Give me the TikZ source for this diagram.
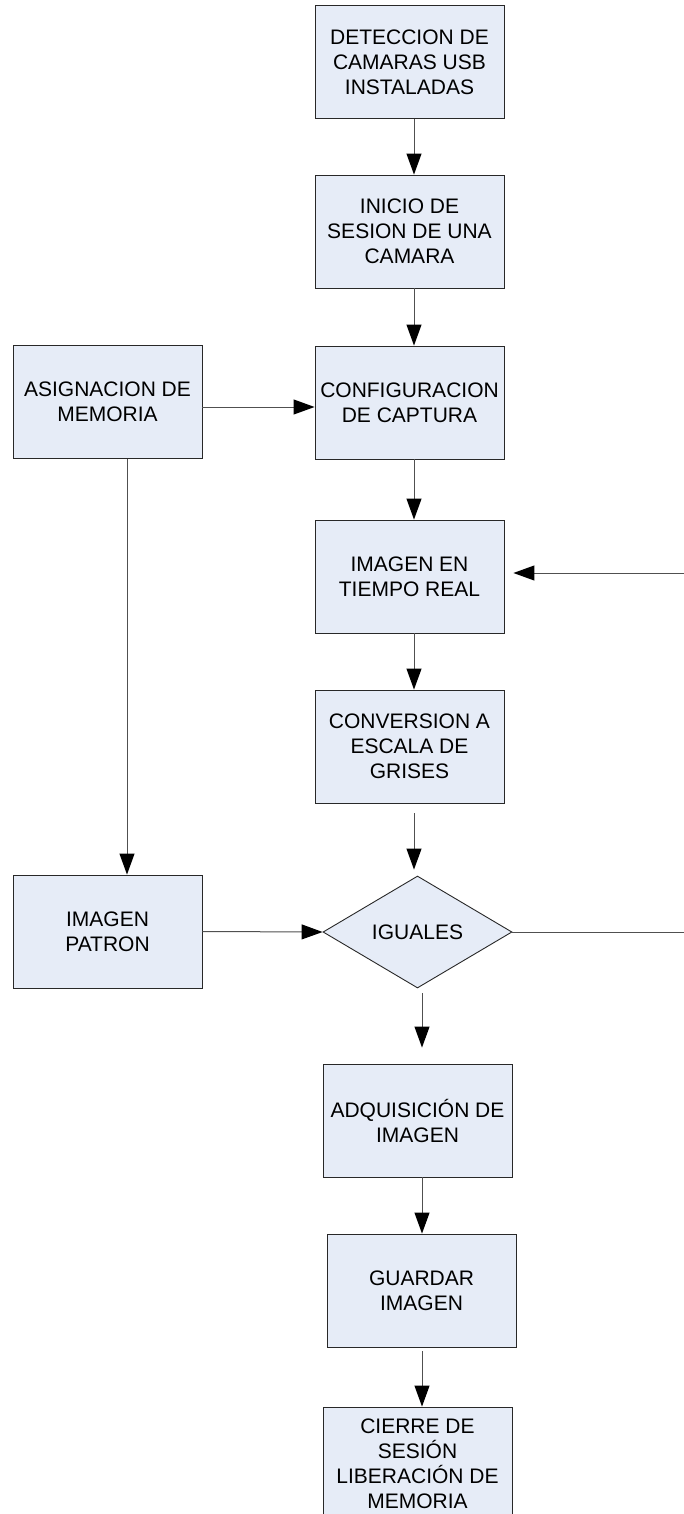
\documentclass[tikz,border=0pt]{standalone}
\usepackage{fontspec}
\setmainfont{Liberation Sans}
\usetikzlibrary{shapes.geometric,arrows.meta}

\definecolor{boxfill}{RGB}{230,236,247}
\definecolor{boxline}{RGB}{40,40,40}
\definecolor{wire}{RGB}{80,80,80}

\tikzset{
  stepbox/.style={draw=boxline, fill=boxfill, line width=0.9pt,
    minimum width=189pt, minimum height=113pt, inner sep=0pt,
    align=center, font=\fontsize{21pt}{25pt}\selectfont},
  decision/.style={diamond, draw=boxline, fill=boxfill, line width=0.9pt,
    minimum width=189pt, minimum height=112pt, inner sep=0pt,
    font=\fontsize{21pt}{25pt}\selectfont},
  flow/.style={draw=wire, line width=1pt,
    -{Triangle[length=21pt,width=15pt,color=black]}}
}

\begin{document}
\begin{tikzpicture}[x=1pt,y=-1pt]
\useasboundingbox (0,0) rectangle (684,1514);

% main column
\node[stepbox] (det) at (409.5,62)   {DETECCION DE\\CAMARAS USB\\INSTALADAS};
\node[stepbox] (ini) at (409.5,231.5) {INICIO DE\\SESION DE UNA\\CAMARA};
\node[stepbox] (cfg) at (409.5,402.5) {CONFIGURACION\\DE CAPTURA};
\node[stepbox] (img) at (409.5,576.5) {IMAGEN EN\\TIEMPO REAL};
\node[stepbox] (cnv) at (409.5,746.5) {CONVERSION A\\ESCALA DE\\GRISES};
\node[decision] (igu) at (417.5,932) {IGUALES};
\node[stepbox] (adq) at (417.5,1120.5) {ADQUISICIÓN DE\\IMAGEN};
\node[stepbox] (grd) at (421.5,1290.5) {GUARDAR\\IMAGEN};
\node[stepbox] (cie) at (417.5,1463.5) {CIERRE DE\\SESIÓN\\LIBERACIÓN DE\\MEMORIA};

% left column
\node[stepbox] (asg) at (107.5,402)   {ASIGNACION DE\\MEMORIA};
\node[stepbox] (pat) at (107.5,931.5) {IMAGEN\\PATRON};

% return path on the right edge
\coordinate (rt) at (687,932);

% connectors
\draw[flow] ([xshift=4.5pt]det.south) -- ([xshift=4.5pt]ini.north);
\draw[flow] ([xshift=4.5pt]ini.south) -- ([xshift=4.5pt]cfg.north);
\draw[flow] ([xshift=4.5pt]cfg.south) -- ([xshift=4.5pt]img.north);
\draw[flow] ([xshift=4.5pt]img.south) -- ([xshift=4.5pt]cnv.north);
\draw[flow, shorten <=10pt, shorten >=6pt]
  ([xshift=4.5pt]cnv.south) -- ([xshift=-3.5pt]igu.north);
\draw[flow, shorten <=5pt, shorten >=16pt]
  ([xshift=4.5pt]igu.south) -- ([xshift=4.5pt]adq.north);
\draw[flow] ([xshift=4.5pt]adq.south) -- ([xshift=0.5pt]grd.north);
\draw[flow, shorten <=4pt] ([xshift=0.5pt]grd.south) -- ([xshift=4.5pt]cie.north);

\draw[flow] ([yshift=-5pt]asg.east) -- ([yshift=-4.5pt]cfg.west);
\draw[flow] ([xshift=19.5pt]asg.south) -- ([xshift=19.5pt]pat.north);
\draw[flow] (pat.east) -- (igu.west);

\draw[flow, shorten >=9pt] (igu.east) -- (rt) |- ([yshift=3.5pt]img.east);
\end{tikzpicture}
\end{document}
